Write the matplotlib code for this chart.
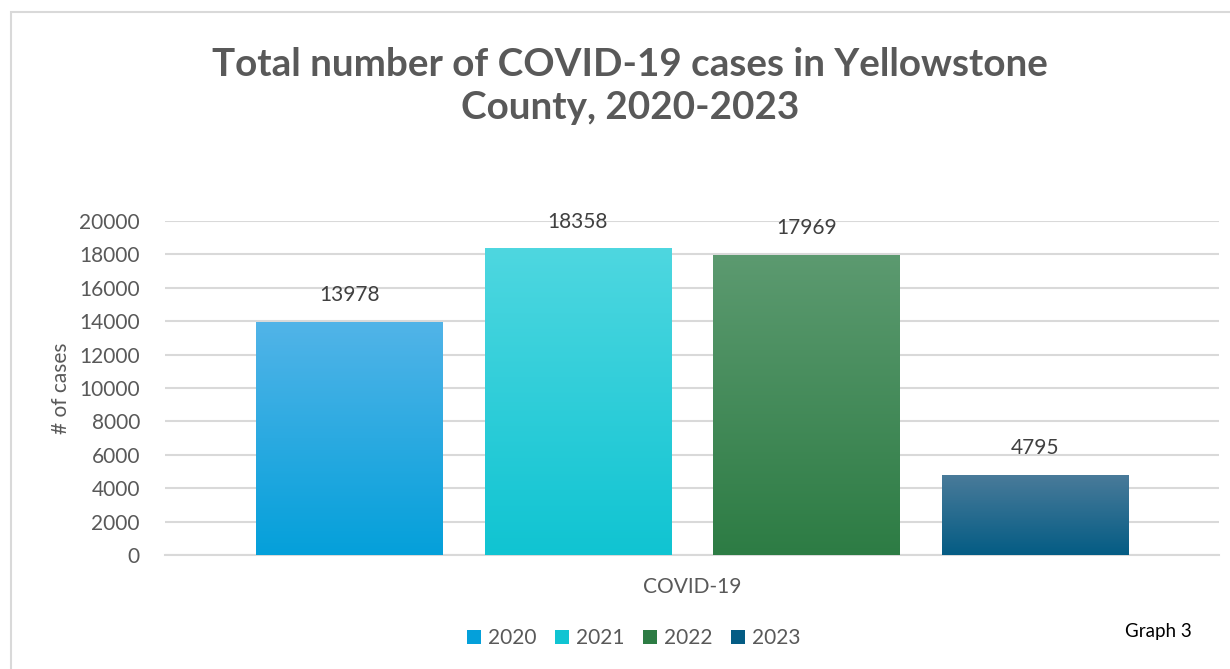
import matplotlib.pyplot as plt
import matplotlib.colors as mcolors
from matplotlib.patches import Rectangle
import numpy as np

plt.rcParams['font.family'] = ['Lato', 'DejaVu Sans']

years = ['2020', '2021', '2022', '2023']
cases = [13978, 18358, 17969, 4795]
category = 'COVID-19'
top_colors = ['#52B4E8', '#4ED7E0', '#5C9A70', '#4A7B9A']
bottom_colors = ['#04A0DA', '#10C4D2', '#2D7C44', '#045C84']

TEXT = '#595959'
GRID = '#D9D9D9'

fig = plt.figure(figsize=(12.3, 6.69), dpi=100)
ax = fig.add_axes([165 / 1230, 114 / 669, 1054 / 1230, 334 / 669])

# chart frame (only top/left edges visible in the reference)
fig.patches.append(Rectangle((11 / 1230, -0.1), 1.2, 1 - 12 / 669 + 0.1,
                             transform=fig.transFigure, fill=False,
                             edgecolor=GRID, linewidth=1.5))

pitch = 0.2168
width = 0.1765
offsets = (np.arange(len(years)) - 1.5) * pitch

bars = ax.bar(offsets, cases, width=width, color=bottom_colors, zorder=3)

# vertical gradient for each bar
for bar, c_top, c_bot in zip(bars, top_colors, bottom_colors):
    cmap = mcolors.LinearSegmentedColormap.from_list('g', [c_bot, c_top])
    grad = np.linspace(0, 1, 256).reshape(-1, 1)
    x0, y0 = bar.get_x(), bar.get_y()
    im = ax.imshow(grad, cmap=cmap, origin='lower', aspect='auto',
                   extent=[x0, x0 + bar.get_width(), y0, y0 + bar.get_height()],
                   zorder=4)
    im.set_clip_path(bar)

for x, v in zip(offsets, cases):
    ax.text(x, v + 1000, str(v), ha='center', va='bottom', fontsize=15, color='#404040')

ax.set_xlim(-0.5, 0.5)
ax.set_ylim(0, 20000)
ax.set_yticks(np.arange(0, 20001, 2000))
ax.yaxis.grid(True, color=GRID, linewidth=1.5, zorder=0)
ax.set_axisbelow(True)
for s in ['top', 'right', 'left']:
    ax.spines[s].set_visible(False)
ax.spines['bottom'].set_color(GRID)
ax.spines['bottom'].set_linewidth(1.5)
ax.tick_params(axis='y', length=0, labelsize=15, labelcolor=TEXT, pad=18)
ax.set_xticks([0])
ax.set_xticklabels([category])
ax.tick_params(axis='x', length=0, labelsize=15, labelcolor=TEXT, pad=16)
ax.set_ylabel('# of cases', fontsize=15, color=TEXT)
ax.yaxis.set_label_coords(-94 / 1054, 0.5)

fig.text(630 / 1230, 1 - 86 / 669, 'Total number of COVID-19 cases in Yellowstone\nCounty, 2020-2023',
         ha='center', va='center', fontsize=27.8, fontweight='bold', color=TEXT, linespacing=1.3)

# legend squares
handles = [Rectangle((0, 0), 1, 1, facecolor=c) for c in bottom_colors]
fig.legend(handles, years, loc='center', bbox_to_anchor=(634 / 1230, 1 - 638 / 669), ncol=4,
           frameon=False, fontsize=15, labelcolor=TEXT, handlelength=0.65, handleheight=0.65,
           handletextpad=0.35, columnspacing=0.9)

fig.text(1158 / 1230, 1 - 632 / 669, 'Graph 3', ha='center', va='center', fontsize=13.5, color='black')

fig.savefig('out.png', dpi=100)
